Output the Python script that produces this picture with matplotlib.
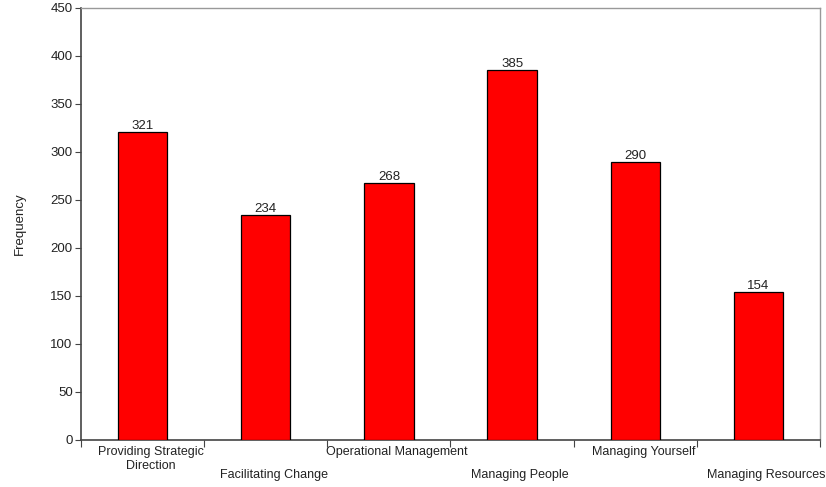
import matplotlib
matplotlib.use("Agg")
import matplotlib.pyplot as plt
import matplotlib.transforms as mtransforms
import numpy as np

categories = ["Providing Strategic\nDirection", "Facilitating Change", "Operational Management",
              "Managing People", "Managing Yourself", "Managing Resources"]
values = [321, 234, 268, 385, 290, 154]
yticks = list(range(0, 451, 50))

plt.rcParams['font.family'] = ['Liberation Sans Narrow', 'Liberation Sans', 'DejaVu Sans']

fig = plt.figure(figsize=(8.26, 4.87), dpi=100)
ax = fig.add_axes([81/826, 1-440/487, (820-81)/826, (440-8)/487])

x = np.arange(len(values))
bars = ax.bar(x, values, width=0.4, color="#FF0000", edgecolor="black", linewidth=0.9, zorder=3)
for xi, v in zip(x, values):
    ax.text(xi, v, str(v), ha="center", va="bottom", fontsize=9.5, color="#222222")

ax.set_xlim(-0.5, len(values)-0.5)
ax.set_ylim(0, 450)
ax.set_yticks(yticks)
ax.set_yticklabels([str(t) for t in yticks], fontsize=9.5, color="#222222")
ax.set_xticks(np.arange(len(values)+1) - 0.5)
ax.set_xticklabels([])
ax.tick_params(axis='x', direction='out', length=5, color="#444444")
ax.tick_params(axis='y', direction='out', length=4, color="#444444", pad=2)

offset = mtransforms.ScaledTranslation(8/100, 0, fig.dpi_scale_trans)
for i, lab in enumerate(categories):
    y_px = -6 if i % 2 == 0 else -29
    ax.text(i, 0, lab, ha="center", va="top", fontsize=9, color="#222222",
            transform=mtransforms.blended_transform_factory(ax.transData, ax.transAxes) + offset
            + mtransforms.ScaledTranslation(0, y_px/100, fig.dpi_scale_trans),
            linespacing=1.2)

ax.set_ylabel("Frequency", fontsize=9.5, color="#222222", labelpad=18)

for s in ["top", "right"]:
    ax.spines[s].set_color("#999999")
    ax.spines[s].set_linewidth(1.0)
for s in ["left", "bottom"]:
    ax.spines[s].set_color("#444444")
    ax.spines[s].set_linewidth(1.2)

fig.savefig("out.png", dpi=100)
